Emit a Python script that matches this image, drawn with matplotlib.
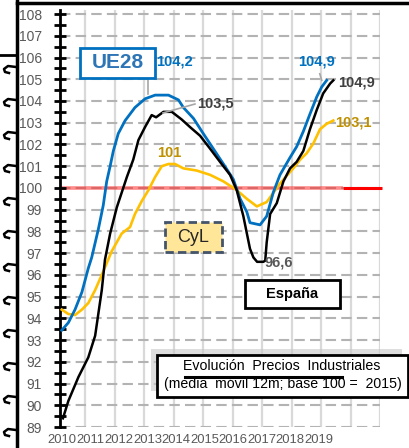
import numpy as np
import matplotlib.pyplot as plt
from matplotlib.patches import Rectangle
from matplotlib.lines import Line2D

plt.rcParams['font.family'] = ['Liberation Sans', 'DejaVu Sans']

# --- Data (month index, Jan 2010 = 0; 12m moving average, base 100 = 2015) ---
YEARS = [str(y) for y in range(2010, 2020)]

ESP_M = [3.0, 5.2, 9.3, 13.3, 16.1, 18.8, 20.1, 22.2, 24.9, 29.0, 31.6, 33.7, 36.4, 39.1,
         40.9, 43.9, 47.3, 51.3, 54.7, 58.8, 62.9, 66.9, 71.0, 73.7, 76.4, 79.1, 80.5, 82.0,
         84.5, 85.3, 85.9, 87.3, 90.0, 92.7, 95.4, 98.1, 100.8, 103.5, 106.3, 108.9, 111.7, 113.0]
ESP_V = [89.4, 90.2, 91.3, 92.2, 93.2, 95.3, 96.7, 97.9, 99.1, 100.5, 101.3, 102.2, 102.8, 103.35,
         103.25, 103.5, 103.5, 103.15, 102.8, 102.4, 101.8, 101.2, 100.6, 99.9, 98.7, 97.2, 96.8, 96.6,
         96.6, 96.65, 97.5, 98.8, 99.3, 100.3, 100.9, 101.2, 101.7, 102.7, 103.6, 104.35, 104.8, 104.95]

UE_M = [2.5, 5.2, 7.9, 10.7, 13.3, 14.7, 17.4, 19.4, 20.8, 22.2, 23.5, 25.5, 28.3, 32.3,
        36.4, 40.5, 45.9, 50.0, 52.0, 56.1, 60.1, 64.2, 68.3, 72.3, 75.1, 77.8, 79.1, 83.2,
        85.9, 88.6, 91.3, 95.4, 98.1, 100.8, 103.5, 106.3, 108.3, 110.3]
UE_V = [93.45, 93.8, 94.4, 95.2, 96.3, 96.8, 98.1, 99.2, 100.3, 101.0, 101.7, 102.5, 103.1, 103.7,
        104.1, 104.27, 104.27, 104.05, 103.7, 103.2, 102.5, 101.8, 101.1, 100.4, 99.5, 98.9, 98.4, 98.3,
        98.7, 99.8, 100.6, 101.4, 101.9, 102.6, 103.4, 104.2, 104.65, 104.95]

CYL_M = [2.5, 5.2, 7.9, 10.7, 13.3, 16.1, 18.8, 22.9, 26.9, 30.3, 32.3, 35.1, 37.8, 40.5,
         43.2, 45.9, 48.6, 52.0, 57.4, 62.9, 68.3, 73.7, 77.8, 81.9, 85.9, 91.3, 96.7, 99.5,
         102.2, 104.9, 107.6, 110.3, 113.0]
CYL_V = [94.4, 94.2, 94.15, 94.4, 94.7, 95.3, 96.0, 97.1, 97.9, 98.2, 98.8, 99.4, 99.9, 100.5,
         101.0, 101.1, 101.1, 100.9, 100.8, 100.6, 100.3, 99.9, 99.5, 99.15, 99.35, 100.2, 100.9, 101.3,
         101.6, 102.05, 102.7, 102.95, 103.1]

BLUE = '#0070C0'
GOLD = '#FFC000'
GOLD_TXT = '#BF9000'
GRAY_TXT = '#595959'
DARK_TXT = '#404040'

W, H = 410, 448
fig = plt.figure(figsize=(W / 100, H / 100), dpi=100)
ax = fig.add_axes([60 / W, 1 - 427 / H, 320 / W, (427 - 9.7) / H])
ax.set_xlim(1.8, 132)
ax.set_ylim(89, 108.2)

# grid
for m in range(12, 133, 12):
    ax.axvline(m, color='#d9d9d9', lw=1.6, zorder=0)
for v in range(89, 109):
    ax.axhline(v, color='#b3b3b3', lw=1.5, dashes=(5, 2.5), zorder=0.5)

# reference line at 100
ax.hlines(100, 1.8, 117, color='#ff2a2a', alpha=0.55, lw=2.6, zorder=1)
ax.hlines(100, 117, 132.8, color='#ff0000', lw=2.2, zorder=1, clip_on=False)

# series
ax.plot(CYL_M, CYL_V, color=GOLD, lw=1.9, zorder=3)
ax.plot(UE_M, UE_V, color=BLUE, lw=2.0, zorder=3)
ax.plot(ESP_M, ESP_V, color='black', lw=1.8, zorder=4)

# axes styling
for s in ['top', 'right', 'bottom']:
    ax.spines[s].set_visible(False)
ax.spines['left'].set_linewidth(2)
ax.spines['left'].set_color('black')
ax.set_yticks(range(89, 109))
ax.set_yticks(np.arange(89.5, 108, 1), minor=True)
ax.tick_params(axis='y', which='both', direction='inout', length=8, width=2,
               color='black', labelcolor=GRAY_TXT, labelsize=10, pad=9)
ax.set_xticks(np.arange(len(YEARS)) * 11.6 + 2.6, YEARS)
ax.tick_params(axis='x', length=0, labelcolor=GRAY_TXT, labelsize=9.4, pad=5)

# labels
bold = dict(fontweight='bold', fontsize=10.5, va='center', zorder=6)
ax.text(40.9, 105.8, '104,2', color=BLUE, ha='left', **bold)
ax.text(57.6, 103.9, '103,5', color=DARK_TXT, ha='left', **bold)
ax.plot([43.7, 56.7], [103.45, 103.86], color='#a6a6a6', lw=1.2, zorder=5)
ax.text(41.3, 101.6, '101', color=GOLD_TXT, ha='left', **bold)
ax.text(98.7, 105.8, '104,9', color=BLUE, ha='left', **bold)
ax.plot([107.5, 108.3], [105.25, 104.95], color='#a6a6a6', lw=1.2, zorder=5)
ax.text(114.9, 104.87, '104,9', color=DARK_TXT, ha='left', clip_on=False, **bold)
ax.text(113.7, 103.0, '103,1', color=GOLD_TXT, ha='left', clip_on=False, **bold)
ax.text(85.2, 96.55, '96,6', color=GRAY_TXT, ha='left', **bold)

# UE28 box
ax.plot([37.6, 37.6], [105.06, 104.3], color='#a6a6a6', lw=1.2, zorder=5)
ax.add_patch(Rectangle((10.0, 105.06), 30.5, 1.38, fc='white', ec=BLUE, lw=2, zorder=6))
ax.text(25.2, 105.75, 'UE28', color='#2E75B6', fontsize=15, fontweight='bold',
        ha='center', va='center', zorder=7)

# CyL box
ax.add_patch(Rectangle((44.5, 97.05), 23.2, 1.38, fc='#FFE699', ec='#44546A', lw=2,
                       ls=(0, (3, 1.5)), zorder=6))
ax.text(56.1, 97.72, 'CyL', color='#262626', fontsize=13, ha='center', va='center', zorder=7)

# España box
ax.add_patch(Rectangle((77.1, 94.48), 38.6, 1.28, fc='white', ec='black', lw=2, zorder=6))
ax.text(96.4, 95.1, 'España', color='black', fontsize=10.5, fontweight='bold',
        ha='center', va='center', zorder=7)

# title box (figure coords, extends beyond plot)
def fx(px):
    return px / W

def fy(py):
    return 1 - py / H

fig.add_artist(Rectangle((fx(151), fy(397) + 6 / H), fx(408) - fx(157), fy(355) - fy(397),
                         fc='#c8c8c8', ec='none', alpha=0.6, zorder=8))
fig.add_artist(Rectangle((fx(157), fy(397)), fx(408) - fx(157), fy(355) - fy(397),
                         fc='white', ec='black', lw=2, zorder=9))
fig.text(fx(282), fy(366), 'Evolución  Precios  Industriales', fontsize=10.2,
         ha='center', va='center', zorder=10)
fig.text(fx(283), fy(384), '(media  móvil 12m; base 100 =  2015)', fontsize=10.2,
         ha='center', va='center', zorder=10)
fig.add_artist(Line2D([fx(185), fx(342)], [fy(377), fy(377)], color='black', lw=2.2, zorder=11))

# outer frame artefacts
fig.add_artist(Line2D([fx(17), fx(410)], [fy(3), fy(3)], color='black', lw=2.5))
fig.add_artist(Line2D([fx(17), fx(17)], [fy(0), fy(448)], color='black', lw=2.5))
fig.add_artist(Line2D([fx(0), fx(17)], [fy(55), fy(55)], color='black', lw=2))
for hy in range(67, 440, 33):
    fig.add_artist(Line2D([fx(16), fx(8), fx(4), fx(5), fx(9)],
                          [fy(hy), fy(hy - 1), fy(hy + 2), fy(hy + 5), fy(hy + 6)],
                          color='black', lw=1.8))

fig.savefig('out.png', dpi=100)
